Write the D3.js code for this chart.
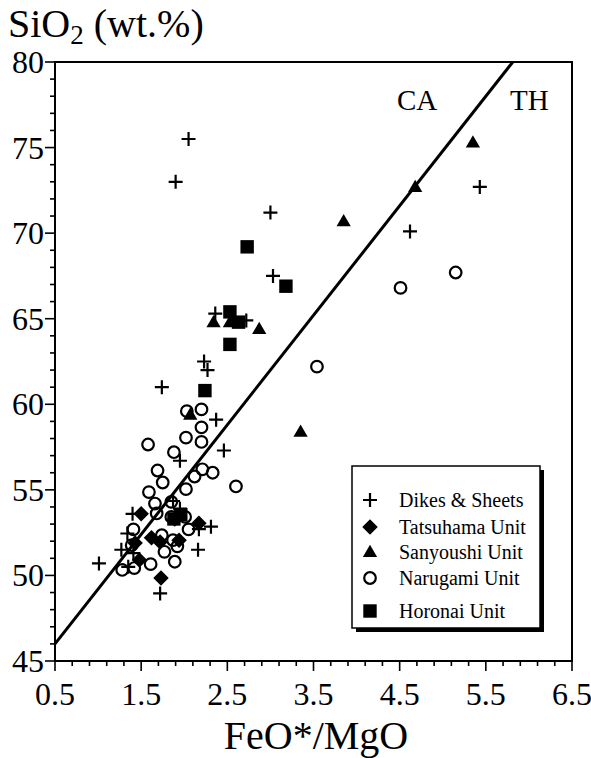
<!DOCTYPE html>
<html>
<head>
<meta charset="utf-8">
<script src="https://cdn.jsdelivr.net/npm/d3@7"></script>
<style>
  body { margin: 0; background: #fff; }
  svg { display: block; }
</style>
</head>
<body>
<svg id="chart" width="591" height="758"></svg>
<script>
// FeO*/MgO vs SiO2
const dikes = [
  [2.05,75.5],[1.90,73.0],[3.00,71.2],[4.62,70.1],[5.43,72.7],[3.03,67.5],
  [2.36,65.3],[2.72,64.9],[2.23,62.5],[2.27,62.0],[1.74,61.0],[2.37,59.1],
  [2.46,57.3],[1.95,56.7],[1.95,53.9],[1.87,54.35],[1.40,53.6],[2.31,52.85],
  [2.17,52.7],[1.34,52.45],[1.27,51.5],[2.16,51.5],[1.41,51.3],[1.01,50.7],
  [1.35,50.5],[1.72,48.95]
];
const tatsuhama = [
  [1.50,53.6],[1.89,53.3],[2.17,53.05],[1.62,52.2],[1.72,51.95],[1.43,51.9],
  [1.94,52.05],[1.48,50.9],[1.73,49.85]
];
const sanyoushi = [
  [5.35,75.3],[4.68,72.7],[3.85,70.7],[2.34,64.8],[2.53,64.8],[2.87,64.4],
  [3.35,58.4],[2.07,59.4]
];
const narugami = [
  [5.15,67.7],[4.51,66.8],[3.54,62.2],[2.03,59.6],[2.20,59.7],[2.20,58.65],
  [2.02,58.05],[2.20,57.8],[1.58,57.65],[1.88,57.2],[1.69,56.13],[2.21,56.2],
  [2.33,56.0],[2.12,55.78],[1.75,55.43],[2.60,55.2],[2.02,55.04],[1.59,54.87],
  [1.66,54.2],[1.85,54.3],[1.68,53.62],[1.85,53.42],[2.01,53.42],[2.05,52.69],
  [1.41,52.69],[1.74,52.35],[1.87,52.06],[1.39,51.77],[1.77,51.38],[1.92,51.7],
  [1.61,50.66],[1.89,50.8],[1.28,50.32],[1.42,50.43]
];
const horonai = [
  [2.73,69.2],[3.18,66.9],[2.53,65.4],[2.63,64.8],[2.53,63.5],[2.24,60.8],
  [1.88,53.3],[1.96,53.55]
];
const seriesNames = ["Dikes & Sheets","Tatsuhama Unit","Sanyoushi Unit","Narugami Unit","Horonai Unit"];
const xTicks = [0.5,1.5,2.5,3.5,4.5,5.5,6.5];
const yTicks = [45,50,55,60,65,70,75,80];
// Miyashiro CA/TH boundary: SiO2 = 6.4 * FeO*/MgO + 42.8
const lineSlope = 6.4, lineIntercept = 42.8;

const FONT = "Times New Roman, Liberation Serif, serif";
const svg = d3.select('#chart').style('font-family', FONT);
const x = d3.scaleLinear().domain([0.5, 6.5]).range([55, 572]);
const y = d3.scaleLinear().domain([45, 80]).range([661, 62]);

// frame
svg.append('rect')
  .attr('x', x(0.5)).attr('y', y(80))
  .attr('width', x(6.5) - x(0.5)).attr('height', y(45) - y(80))
  .attr('fill', 'none').attr('stroke', '#000').attr('stroke-width', 2);

// y axis: major every 5, minor every 1, pointing out
const yMinor = d3.range(45, 80.01, 1);
svg.append('g').selectAll('line').data(yMinor).join('line')
  .attr('x1', d => d % 5 === 0 ? x(0.5) - 10 : x(0.5) - 5)
  .attr('x2', x(0.5))
  .attr('y1', d => y(d)).attr('y2', d => y(d))
  .attr('stroke', '#000').attr('stroke-width', 1.6);
svg.append('g').selectAll('text').data(yTicks).join('text')
  .attr('x', 44).attr('y', d => y(d) + 11)
  .attr('text-anchor', 'end')
  .style('font-family', FONT)
  .attr('font-size', 32)
  .text(d => d);

// x axis: major every 1, minor every 0.2
const xMinor = d3.range(0, 31).map(i => 0.5 + i * 0.2);
svg.append('g').selectAll('line').data(xMinor).join('line')
  .attr('x1', d => x(d)).attr('x2', d => x(d))
  .attr('y1', y(45))
  .attr('y2', (d, i) => i % 5 === 0 ? y(45) + 10 : y(45) + 5)
  .attr('stroke', '#000').attr('stroke-width', 1.6);
svg.append('g').selectAll('text').data(xTicks).join('text')
  .attr('x', d => x(d)).attr('y', 705)
  .attr('text-anchor', 'middle')
  .style('font-family', FONT)
  .attr('font-size', 32)
  .text(d => d.toFixed(1));

// axis titles
const t = svg.append('text').attr('x', 8).attr('y', 37).attr('font-size', 40).style('font-family', FONT);
t.append('tspan').text('SiO');
t.append('tspan').attr('font-size', 27).attr('dy', 7).text('2');
t.append('tspan').attr('dy', -7).text(' (wt.%)');
svg.append('text').attr('x', 316).attr('y', 749).style('font-family', FONT)
  .attr('text-anchor', 'middle').attr('font-size', 40).text('FeO*/MgO');

// CA / TH boundary
const xEnd = (80 - lineIntercept) / lineSlope;
svg.append('line')
  .attr('x1', x(0.5)).attr('y1', y(lineSlope * 0.5 + lineIntercept))
  .attr('x2', x(xEnd)).attr('y2', y(80))
  .attr('stroke', '#000').attr('stroke-width', 3);
svg.append('text').attr('x', 397).attr('y', 110).attr('font-size', 29).style('font-family', FONT).text('CA');
svg.append('text').attr('x', 510).attr('y', 110).attr('font-size', 29).style('font-family', FONT).text('TH');

// marker drawers
const plusPath = (s) => `M${-s},0H${s}M0,${-s}V${s}`;
const squarePath = d3.symbol().type(d3.symbolSquare).size(180)();
const diamondPath = d3.symbol().type(d3.symbolSquare).size(120)();
const trianglePath = d3.symbol().type(d3.symbolTriangle).size(88)();

function drawMarker(g, kind) {
  if (kind === 0) {
    g.append('path').attr('d', plusPath(7)).attr('stroke', '#000').attr('stroke-width', 2.2).attr('fill', 'none');
  } else if (kind === 1) {
    g.append('path').attr('d', diamondPath).attr('transform', 'rotate(45)').attr('fill', '#000');
  } else if (kind === 2) {
    g.append('path').attr('d', trianglePath).attr('transform', 'translate(0,1)').attr('fill', '#000');
  } else if (kind === 3) {
    g.append('circle').attr('r', 5.8).attr('fill', 'none').attr('stroke', '#000').attr('stroke-width', 2.2);
  } else {
    g.append('path').attr('d', squarePath).attr('fill', '#000');
  }
}

const allSeries = [dikes, tatsuhama, sanyoushi, narugami, horonai];
// draw order: circles first so filled markers sit on top
[3, 0, 1, 2, 4].forEach(k => {
  svg.append('g').selectAll('g').data(allSeries[k]).join('g')
    .attr('transform', d => `translate(${x(d[0])},${y(d[1])})`)
    .each(function() { drawMarker(d3.select(this), k); });
});

// legend with drop shadow
const lg = svg.append('g');
lg.append('rect').attr('x', 356).attr('y', 470).attr('width', 188).attr('height', 162).attr('fill', '#000');
lg.append('rect').attr('x', 352).attr('y', 466).attr('width', 188).attr('height', 162)
  .attr('fill', '#fff').attr('stroke', '#000').attr('stroke-width', 1.5);
const rowY = [500, 527, 552, 578, 611];
seriesNames.forEach((name, i) => {
  const row = lg.append('g').attr('transform', `translate(370,${rowY[i]})`);
  drawMarker(row, i);
  lg.append('text').attr('x', 399).attr('y', rowY[i] + 7).style('font-family', FONT)
    .attr('font-size', 20).text(name);
});
</script>
</body>
</html>
